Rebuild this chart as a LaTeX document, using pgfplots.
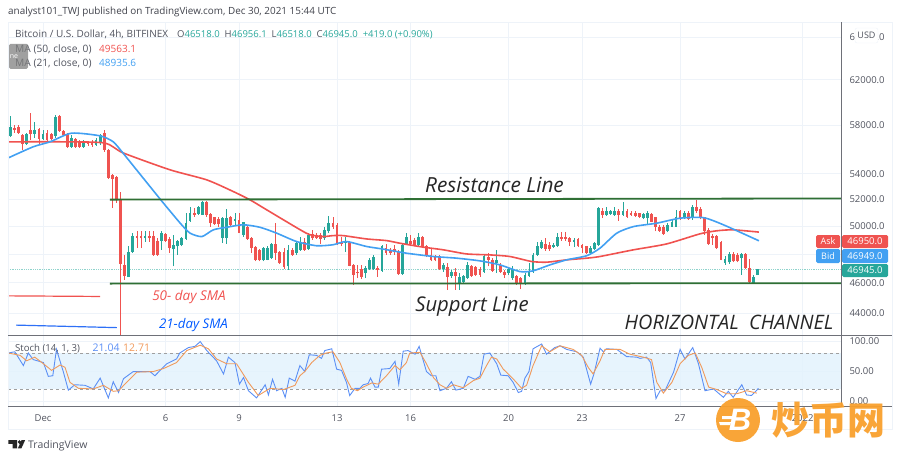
\documentclass[border=0pt]{standalone}
\usepackage{fontspec}
\setmainfont{Open Sans}
\newfontfamily\cjk{Noto Sans CJK SC}
\newfontfamily\libbf{Liberation Sans}
\usepackage{pgfplots}
\usepackage{pgfplotstable}
\pgfplotsset{compat=1.18}
\definecolor{upc}{HTML}{26A69A}
\definecolor{downc}{HTML}{EF5350}
\definecolor{smared}{HTML}{F0524F}
\definecolor{smablue}{HTML}{42A0F2}
\definecolor{gridc}{HTML}{EEF3F9}
\definecolor{framec}{HTML}{6E7078}
\definecolor{labelc}{HTML}{50535E}
\definecolor{bandc}{HTML}{E3F2FD}
\definecolor{stochb}{HTML}{5B8FF5}
\definecolor{stocho}{HTML}{F09A5C}
\definecolor{linec}{HTML}{2F6F34}
\definecolor{lastc}{HTML}{8FD3CC}
\definecolor{wmark}{HTML}{F9A02D}
\newcommand{\fs}[1]{\fontsize{#1}{#1}\selectfont}

% columns: 4h bar number (0 = 1 Dec), body low, body high, wick low, wick high
\pgfplotstableread{
x bl bh wl wh
-8 57100 57860 57020 58810
-4 56430 57260 56350 57350
-2 57260 57600 56930 58290
0 56850 57260 56770 57600
3 57100 58720 56930 58890
7 56180 56930 56100 57180
10 56180 56600 56100 56770
13 56350 56770 56270 56930
14 56510 57180 56350 57260
21 46430 48170 46430 48530
22 48170 49310 48050 49490
25 49120 49310 48880 49680
29 48950 49490 48290 49610
32 48340 48650 47120 49370
33 48530 48950 47940 49000
34 48650 49120 48530 49240
35 49070 50220 49000 50960
36 50410 50960 50340 51460
38 50910 51410 50830 51510
39 50830 51800 50830 51850
44 49120 50590 48760 50640
45 49120 50590 48710 51260
47 50410 50510 50100 50960
49 49370 50270 49240 50340
54 47540 48410 47470 48480
55 47580 48410 47540 48530
56 47700 48710 47630 48760
60 47120 48290 46890 48650
62 48050 48810 47940 48880
63 48290 48880 48220 49240
65 48340 49370 48290 49490
69 49120 49730 49000 49970
70 49610 50220 49490 50760
74 48760 48880 48170 49240
79 46660 47000 46320 47120
80 46960 47580 46890 47700
81 46960 47770 46890 47940
83 46820 48580 46770 48650
88 46610 48650 46550 48710
89 48710 49240 48650 49490
92 48650 49240 48580 49490
98 46930 47230 46770 47350
100 46470 46770 46320 46890
102 45980 46390 45530 46660
103 46090 46470 45980 46550
104 46320 47230 46250 47400
108 46770 47820 46700 47940
111 47350 47580 46660 48290
114 46660 46930 46550 47000
115 46320 46930 46200 47120
118 45930 46550 45870 46660
119 46470 46770 46390 47350
120 46770 47940 46700 48050
121 47940 48530 47870 48880
122 48410 48880 48340 49000
125 48480 48650 48410 48760
126 48580 49240 48480 49490
130 48880 49000 48480 49120
134 48050 48410 48000 48580
135 48340 48760 48290 48880
136 48650 51330 48580 51410
138 50830 51090 50760 51460
139 50910 51090 50830 51210
140 50830 51160 50760 51460
142 50830 51160 50760 51800
147 50590 50910 50510 51010
148 50590 50960 50100 51090
153 49610 50100 49540 50220
154 49970 50340 49920 50460
155 49970 50710 49920 51210
157 50590 51010 50510 51160
159 50590 51460 50460 51590
167 47350 47630 47230 47820
168 47400 48000 47300 48100
171 47700 48000 46550 48050
174 45980 46430 45930 46550
175 46518 46945 46518 46956
}\upbars

\pgfplotstableread{
x bl bh wl wh
-7 57600 57770 57350 58030
-6 57350 57860 57260 58030
-5 56430 57180 55930 57260
-3 57260 57600 56770 59040
-1 56850 57680 56350 57770
1 56770 57350 56680 57600
2 56850 57260 56770 57350
4 57520 58800 57430 58890
5 57180 57520 57100 57600
6 56180 57260 56100 57350
8 56180 56850 56100 56930
9 56180 56600 56100 56770
11 56430 56510 56270 56680
12 56350 56600 56180 56770
15 55930 57350 55770 57600
16 53680 55930 53600 56010
17 53600 53920 51360 54000
18 51970 53760 51740 53840
19 47300 51970 42620 52580
20 46500 47240 46200 47935
23 49120 49310 48410 49610
24 49120 49310 48410 49680
26 49120 49310 48880 49680
27 47940 49310 47870 49680
28 47940 48950 47870 49120
30 48950 49440 48880 49490
31 48410 49070 48050 49240
37 50830 51010 50710 51330
40 50830 51800 50710 51850
41 50220 50880 49970 50960
42 50150 50640 50100 50710
43 50150 50510 49970 50710
46 50100 50710 49970 50760
48 49490 50460 49490 50960
50 49050 49970 49000 50100
51 48410 49120 48050 49240
52 47580 48480 47470 48530
53 47540 48290 47470 48340
57 48050 48710 47580 50220
58 47350 48170 47280 48220
59 47070 48170 46930 48410
61 47940 48290 47870 48410
64 48290 48880 48220 49120
66 49120 49440 49000 49730
67 49120 49370 49070 49490
68 49070 49370 48710 49490
71 49970 50220 49780 50640
72 48760 50100 48650 50220
73 48710 48880 48530 49240
75 47170 48880 47120 48950
76 46550 47230 45870 47300
77 46660 46770 46320 47230
78 46430 46960 46250 47230
82 46890 47000 46430 47120
84 48050 48410 47940 48710
85 48050 48290 47940 48410
86 48170 48340 47940 48650
87 46590 48170 46550 48290
90 48710 48930 48580 49370
91 48650 49000 48530 49120
93 48480 49240 48410 49290
94 47820 48580 47770 48650
95 47540 47940 47470 48410
96 47540 47870 47470 47940
97 46930 47870 46890 47940
99 46430 47070 45530 47350
101 46470 46770 45530 47000
105 46470 47120 46430 47230
106 46550 47070 46470 47170
107 46550 46930 46430 47070
109 47540 47770 47120 48050
110 46840 47580 46770 47700
112 46770 47230 46700 47350
113 46550 46770 46320 46890
116 45980 46470 45870 46550
117 45930 46320 45570 46430
123 48340 48710 48240 49120
124 48340 48650 48240 48880
127 49050 49240 48950 49540
128 49050 49240 48950 49540
129 48880 49120 48580 49240
131 48530 49050 48480 49120
132 48410 48650 48050 48710
133 48050 48530 48000 48580
137 50830 51090 50590 51330
141 50830 51160 50410 51260
143 50710 51160 50590 51260
144 50830 51010 50760 51160
145 50780 51010 50660 51090
146 50710 50960 50590 51010
149 50340 50910 50270 51010
150 49970 50660 49610 50710
151 49660 49970 49580 50100
152 49440 49970 49370 50100
156 50590 51090 50460 51210
158 50510 50960 50460 51090
160 51090 51460 51010 51970
161 50590 51260 50510 51410
162 49610 50660 49370 50710
163 48710 49730 48650 49850
164 49120 49290 48650 49440
165 48410 49290 48340 49370
166 47580 48880 47540 48950
169 47470 48000 47400 48100
170 47470 47940 47400 48050
172 47000 48000 46930 48050
173 46090 47000 46020 47630
}\downbars

\begin{document}
\begin{tikzpicture}[x=1pt,y=1pt]
\path[use as bounding box] (0,0) rectangle (900,459);

% price panel
\begin{axis}[
    at={(8pt,124pt)}, anchor=south west,
    scale only axis, width=833pt, height=313pt,
    xmin=-8.57, xmax=195.4,
    ymode=log, ymin=42612, ymax=67520,
    axis line style={draw=none},
    tick style={draw=none},
    xtick={0,30,48,72,90,114,132,156,186},
    xticklabels={},
    ytick={44000,46000,48000,50000,52000,54000,58000,62000,66000},
    yticklabels={44000.0,46000.0,,50000.0,52000.0,54000.0,58000.0,62000.0,66000.0},
    yticklabel pos=right,
    yticklabel style={anchor=west, xshift=5pt, font=\fs{9.5}, text=labelc},
    grid=major,
    grid style={gridc, line width=0.8pt},
    clip=true,
]
% last price
\addplot[lastc, densely dotted, line width=0.8pt] coordinates {(-8.57,46945) (195.4,46945)};

% wicks and bodies
\addplot[draw=none, mark=none, error bars/.cd, y dir=plus, y explicit, error mark=none,
    error bar style={draw=upc, line width=0.8pt}]
    table[x=x, y=wl, y error expr=\thisrow{wh}-\thisrow{wl}] {\upbars};
\addplot[draw=none, mark=none, error bars/.cd, y dir=plus, y explicit, error mark=none,
    error bar style={draw=upc, line width=2.8pt}]
    table[x=x, y=bl, y error expr=\thisrow{bh}-\thisrow{bl}] {\upbars};
\addplot[draw=none, mark=none, error bars/.cd, y dir=plus, y explicit, error mark=none,
    error bar style={draw=downc, line width=0.8pt}]
    table[x=x, y=wl, y error expr=\thisrow{wh}-\thisrow{wl}] {\downbars};
\addplot[draw=none, mark=none, error bars/.cd, y dir=plus, y explicit, error mark=none,
    error bar style={draw=downc, line width=2.8pt}]
    table[x=x, y=bl, y error expr=\thisrow{bh}-\thisrow{bl}] {\downbars};

% 50 SMA
\addplot[smared, line width=1.6pt, smooth, tension=0.4] coordinates {
    (-8.5,56600) (5.8,56600) (15.2,56500) (19.6,55690) (31.1,54320) (40.1,53520)
    (46.6,52610) (50.7,51970) (54.8,51210) (63,49730) (65.4,49370) (68.6,49240)
    (71,49310) (73.5,49310) (79.2,49070) (84.1,48950) (87.4,48760) (93.1,48480)
    (98,48290) (103.7,48000) (109.4,47930) (114.3,47820) (119.6,47470) (123.3,47420)
    (128.2,47580) (133.1,47700) (136.4,47820) (144.6,48290) (152.7,48710)
    (160.9,49440) (165,49660) (169,49730) (175.3,49563)
};
% 21 SMA
\addplot[smablue, line width=1.6pt, smooth, tension=0.4] coordinates {
    (-8.5,55280) (-2.4,56190) (1.7,56600) (7,57330) (14,57100) (17.2,56600)
    (19.6,55670) (22.9,54320) (26.2,53000) (29.5,51720) (33.6,50220) (36,49490)
    (38.9,49240) (41.7,49730) (45,49920) (49,50100) (53.1,49920) (57.2,49490)
    (62.1,48880) (67,48580) (71,48650) (74.3,48880) (79.2,48530) (83.3,48340)
    (89,48050) (95.6,47820) (101.3,47700) (107,47510) (111.9,47230) (116.8,46770)
    (120,46820) (124.1,47230) (128.2,47580) (133.1,47870) (136.4,48410)
    (140.5,49490) (144.6,49970) (150.3,50220) (156,50590) (161.7,50630)
    (166.6,50100) (175.3,48935)
};
% channel lines
\addplot[linec, line width=1.8pt] coordinates {(16.4,51990) (195.4,52080)};
\addplot[linec, line width=1.8pt] coordinates {(16.4,45950) (195.4,45975)};
% hand drawn legend strokes
\addplot[smared, line width=1.2pt] coordinates {(-8.57,45130) (14,45090)};
\addplot[smablue!70!blue, line width=1.2pt] coordinates {(-6.6,43230) (18.1,43070)};
\end{axis}

% stochastic panel
\begin{axis}[
    at={(8pt,53pt)}, anchor=south west,
    scale only axis, width=833pt, height=71pt,
    xmin=-8.57, xmax=195.4,
    ymin=-8.5, ymax=110,
    axis line style={draw=none},
    tick style={draw=none},
    xtick={0,30,48,72,90,114,132,156,186},
    xticklabels={Dec,6,9,13,16,20,23,27,2022},
    xticklabel style={font=\fs{9.5}, text=labelc, yshift=-5pt},
    ytick={0,50,100},
    yticklabels={0.00,50.00,100.00},
    yticklabel pos=right,
    yticklabel style={anchor=west, xshift=5pt, font=\fs{9.5}, text=labelc},
    grid=major,
    grid style={gridc, line width=0.8pt},
]
\addplot[draw=none, fill=bandc, fill opacity=0.85] coordinates {(-8.57,20) (195.4,20) (195.4,80) (-8.57,80)} -- cycle;
\addplot[gray!75, dashed, line width=0.7pt] coordinates {(-8.57,80) (195.4,80)};
\addplot[gray!75, dashed, line width=0.7pt] coordinates {(-8.57,20) (195.4,20)};
\addplot[stochb, line width=0.9pt] coordinates {
    (-8.5,80) (-6.9,82) (-4.8,59) (-3.6,80) (-2.4,69) (0.1,64) (1.3,41) (2.4,42) (3.3,86)
    (5,48) (6.2,18) (7.8,27) (10.3,26) (12.3,20) (14,38) (16,5) (17.2,32) (18.5,14)
    (19.7,37) (22.1,49) (26.2,49) (27.4,42) (30.3,62) (32.7,70) (33.5,80) (35.6,89)
    (37.2,91) (38.5,99) (40.1,84) (42.5,67) (44.2,45) (45.4,73) (47,64) (48.1,28)
    (49.1,39) (50.3,17) (52.3,5) (54.4,27) (55.2,10) (56.2,36) (57.2,17) (58.5,21)
    (59.3,6) (60.3,38) (61.7,33) (62.9,59) (64.1,49) (65.2,77) (67,76) (68.2,71) (69,84)
    (70.7,87) (71.9,53) (73.1,51) (74.3,31) (75.1,9) (76.4,21) (77.6,21) (78.4,27)
    (79.6,29) (80.2,38) (81.3,23) (82.1,23) (82.9,53) (84.9,54) (86.2,66) (87.1,28)
    (88.2,83) (89.4,84) (91.1,78) (92.1,91) (93.9,49) (95.1,42) (96.2,42) (97.2,17)
    (98.8,21) (100,32) (101.1,18) (102.9,21) (104.1,41) (105.8,36) (107,41) (108,78)
    (109.4,80) (111.1,62) (112.1,43) (113.9,42) (115.1,31) (116.4,14) (117.2,16) (118,38)
    (119,49) (120,87) (122.1,95) (123.3,78) (125.3,89) (126.6,92) (128.2,86) (130.7,82)
    (132.3,73) (134.1,28) (134.9,45) (136.4,88) (137.2,82) (138,87) (140.5,86) (142.9,74)
    (145.4,73) (146.2,71) (147.8,73) (148.8,64) (150.1,4) (151.1,17) (152.3,17) (154.4,48)
    (156,86) (157.2,70) (159.1,89) (160.5,62) (162.1,17) (164.2,20) (166.6,6) (167.8,16)
    (169,6) (171.1,27) (172.3,10) (173.5,9) (175.2,21)
};
\addplot[stocho, line width=0.9pt] coordinates {
    (-8.5,80) (-5.6,76) (-4,67) (-2,73) (0.1,62) (2.1,51) (4.2,60) (5.4,56) (6.6,31)
    (8.7,21) (12.3,20) (14.8,26) (17.2,16) (18.5,17) (20.9,34) (23,48) (27,49) (29.5,54)
    (32.7,64) (35.2,84) (38.5,93) (40.5,87) (42.5,70) (45,62) (47.4,62) (50.3,31)
    (52.7,9) (55.6,21) (58.9,19) (61.7,26) (62.9,42) (64.1,49) (65.8,64) (67.8,76)
    (69.4,80) (71,82) (72.7,64) (74.3,37) (75.5,21) (77,17) (78.4,23) (80.5,30) (82.1,28)
    (84.1,42) (86.2,59) (87.4,52) (89,64) (89.8,80) (92.3,81) (93.9,62) (95.6,39)
    (97.2,27) (98.8,21) (100.5,27) (102.9,22) (105.4,34) (107,38) (108.6,59) (109.8,73)
    (111.1,70) (112.7,53) (115.1,37) (117.2,21) (118.4,26) (120,59) (122.1,92) (124.1,82)
    (126.6,92) (129.8,86) (131.9,76) (133.5,56) (134.7,45) (136.4,67) (137.6,86) (141.3,86)
    (143.7,78) (147,73) (149,69) (150.3,31) (151.9,13) (154,31) (156,62) (158,76)
    (159.7,80) (161.3,56) (163,23) (165,19) (167.4,12) (169.9,12) (172.3,17) (174.8,13)
};
\end{axis}

% everything below in screen pixels, y pointing down
\begin{scope}[shift={(0pt,459pt)}, x=1pt, y=-1pt]
\draw[gridc, line width=0.9pt] (8,22.5) rectangle (892,429);
\draw[framec, line width=0.9pt] (8,335) -- (892,335);
\draw[framec, line width=0.9pt] (8,406) -- (892,406);
\draw[framec, line width=0.9pt] (841,22.5) -- (841,406);

% header and legends
\node[anchor=base west, inner sep=0, text=labelc!80!black, font=\fs{9.9}] at (8,15) {analyst101\_TWJ published on TradingView.com, Dec 30, 2021 15:44 UTC};
\node[anchor=base west, inner sep=0, text=labelc, font=\fs{10}] at (15,38) {Bitcoin / U.S. Dollar, 4h, BITFINEX};
\node[anchor=base west, inner sep=0, text=labelc, font=\fs{9.5}] at (177,38) {O\textcolor{upc}{46518.0}\ \ H\textcolor{upc}{46956.1}\ \ L\textcolor{upc}{46518.0}\ \ C\textcolor{upc}{46945.0}\ \ \textcolor{upc}{+419.0 (+0.90\%)}};
\node[anchor=base west, inner sep=0, text=labelc, font=\fs{10.2}] at (15,53) {MA (50, close, 0)};
\node[anchor=base west, inner sep=0, text=smared, font=\fs{10}] at (99,53) {49563.1};
\node[anchor=base west, inner sep=0, text=labelc, font=\fs{10.2}] at (15,67) {MA (21, close, 0)};
\node[anchor=base west, inner sep=0, text=smablue, font=\fs{10}] at (99,67) {48935.6};
\fill[gray, opacity=0.75, rounded corners=1.5pt] (9,44) rectangle (28,69);
\node[text=white, font=\fs{7}, inner sep=0] at (14,56.5) {ne};

\node[anchor=base west, inner sep=0, text=labelc, font=\fs{9.6}] at (15,351.5) {Stoch (14, 1, 3)};
\node[anchor=base west, inner sep=0, text=stochb, font=\fs{10.5}] at (92.5,351.5) {21.04};
\node[anchor=base west, inner sep=0, text=stocho, font=\fs{10.5}] at (123,351.5) {12.71};

% annotations
\node[anchor=base, inner sep=0, text=black!85, font=\fs{20.8}\itshape] at (494.5,192) {Resistance Line};
\node[anchor=base, inner sep=0, text=black!85, font=\fs{20.3}\itshape] at (472,311) {Support Line};
\node[anchor=base, inner sep=0, text=black!85, font=\fs{19.9}\itshape] at (729,329) {HORIZONTAL\ \ CHANNEL};
\node[anchor=base, inner sep=0, text=smared, font=\fs{13.5}\itshape] at (189,300) {50- day SMA};
\node[anchor=base, inner sep=0, text=blue!65!cyan, font=\fs{13.3}\itshape] at (193.5,328) {21-day SMA};

% price tags
\fill[downc, rounded corners=1.5pt] (816,235) rectangle (840,248);
\fill[downc, rounded corners=1.5pt] (842,235) rectangle (888,248);
\fill[smablue, rounded corners=1.5pt] (816,249) rectangle (840,263);
\fill[smablue, rounded corners=1.5pt] (842,249) rectangle (888,263);
\fill[upc, rounded corners=1.5pt] (842,264) rectangle (888,277);
\node[text=white, font=\fs{9}, inner sep=0] at (828,241.5) {Ask};
\node[text=white, font=\fs{9}, inner sep=0] at (828,256) {Bid};
\node[text=white, font=\fs{9.5}, inner sep=0] at (865,241.5) {46950.0};
\node[text=white, font=\fs{9.5}, inner sep=0] at (865,256) {46949.0};
\node[text=white, font=\fs{9.5}, inner sep=0] at (865,270.5) {46945.0};

% currency button
\filldraw[draw=gridc, fill=white, rounded corners=2pt] (855,28) rectangle (878,43);
\node[text=labelc, font=\fs{9}, inner sep=0] at (866.5,35) {USD};

% TradingView logo
\fill[black!85] (8.3,440) -- (17.2,440) -- (17.2,448.3) -- (12.6,448.3) -- (12.6,443.8) -- (8.3,443.8) -- cycle;
\fill[black!85] (19.6,442) circle (1.9);
\fill[black!85] (25.2,440) -- (21.4,448.3) -- (17.9,448.3) -- (21.6,440) -- cycle;
\node[anchor=base west, inner sep=0, text=labelc, font=\fs{10.5}] at (28,448.5) {TradingView};

% watermark
\fill[wmark, opacity=0.95] (738,420) circle (22);
\node[text=white, inner sep=0, font=\libbf\bfseries\itshape\fs{31}] at (740,420) {B};
\fill[white] (722,416) -- (733,416) -- (732,419) -- (722,419) -- cycle;
\fill[white] (719,422) -- (731,422) -- (730,425) -- (720,425) -- cycle;
\node[anchor=base west, inner sep=0, text=wmark, opacity=0.95, font=\cjk\bfseries\fs{38}] at (771,434) {炒币网};
\end{scope}
\end{tikzpicture}
\end{document}
